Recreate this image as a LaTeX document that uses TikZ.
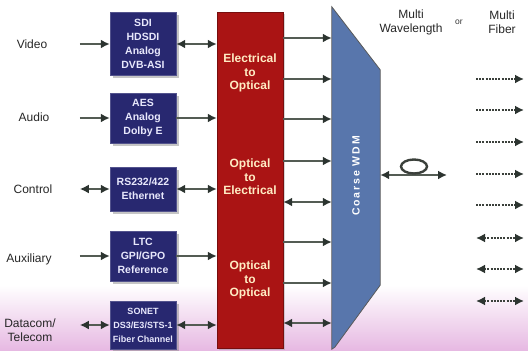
\documentclass[tikz,border=0pt]{standalone}
\usepackage{fontspec}
\setmainfont{Liberation Sans}
\newfontfamily\wdmfont[LetterSpace=18]{Liberation Sans}
\usetikzlibrary{positioning,calc,arrows.meta,shadows}
\definecolor{navybox}{RGB}{40,40,112}
\definecolor{boxtext}{RGB}{232,232,252}
\definecolor{convred}{RGB}{170,20,20}
\definecolor{convtext}{RGB}{255,236,196}
\definecolor{wdmblue}{RGB}{88,118,172}
\definecolor{wirecol}{RGB}{84,92,84}
\definecolor{headcol}{RGB}{44,52,48}
\definecolor{bgpink}{RGB}{230,184,226}

\begin{document}
\begin{tikzpicture}[x=1pt, y=-1pt,
  >={Latex[length=9pt,width=9pt,color=headcol]},
  lbl/.style={font=\fontsize{12}{14}\selectfont, text=black!85, align=center},
  sig/.style={draw=navybox!80!white, fill=navybox, text=boxtext, align=center,
              minimum width=66pt, minimum height=#1, inner sep=1pt,
              font=\bfseries\fontsize{10.5}{14}\selectfont,
              drop shadow={shadow xshift=2.5pt, shadow yshift=-2.5pt, fill=black!45, opacity=0.5}},
  sig/.default=50pt,
  conv/.style={text=convtext, align=center, font=\bfseries\fontsize{12}{13.5}\selectfont},
  arr/.style={->, draw=wirecol, line width=2.8pt},
  arr2/.style={<->, draw=wirecol, line width=2.8pt},
  fib/.style={->, draw=wirecol!70!black, line width=2.4pt, dash pattern=on 2pt off 1.2pt},
  fib2/.style={<->, draw=wirecol!70!black, line width=2.4pt, dash pattern=on 2pt off 1.2pt}]
\useasboundingbox (0,0) rectangle (528,351);
\shade[top color=white, bottom color=bgpink] (0,285) rectangle (528,351);

\node[lbl] (video) at (32,44) {Video};
\node[lbl] (audio) at (34,117) {Audio};
\node[lbl] (ctrl) at (33,189) {Control};
\node[lbl] (aux) at (29,259) {Auxiliary};
\node[lbl] (datacom) at (30,330) {Datacom/\\Telecom};

\node[sig=63pt] (sdi) at (143,44) {SDI\\HDSDI\\Analog\\DVB-ASI};
\node[sig=50pt] (aes) at (143,118) {AES\\Analog\\Dolby E};
\node[sig=44pt] (rs) at (143,189) {RS232/422\\Ethernet};
\node[sig=50pt] (ltc) at (143,256) {LTC\\GPI/GPO\\Reference};
\node[sig=48pt, font=\bfseries\fontsize{9}{14}\selectfont] (sonet) at (143,325) {SONET\\DS3/E3/STS-1\\Fiber Channel};

\node[fill=convred, draw=convred!70!black, minimum width=66pt, minimum height=336pt,
      drop shadow={shadow xshift=2pt, shadow yshift=-2pt, fill=black!40, opacity=0.4}] (conv) at (250,180) {};
\node[conv] (eo) at (250,73) {Electrical\\to\\Optical};
\node[conv] (oe) at (250,177) {Optical\\to\\Electrical};
\node[conv] (oo) at (250,280) {Optical\\to\\Optical};

\node[minimum width=48pt, minimum height=342pt, inner sep=0pt] (wdm) at (356,178) {};
\filldraw[fill=wdmblue, draw=gray!70!black, line width=0.8pt]
  (wdm.north west) -- ($(wdm.north east)+(0,63)$) -- ($(wdm.south east)+(0,-64)$)
  -- ($(wdm.south west)+(3,-2)$) -- (wdm.south west) -- cycle;
\node[rotate=90, text=white, font=\wdmfont\bfseries\fontsize{10.5}{12}\selectfont] (wdmlbl) at (356,176) {Coarse WDM};

\node[lbl] (mwave) at (411,22) {Multi\\Wavelength};
\node[font=\fontsize{8.5}{9}\selectfont, text=black!80] (orlbl) at (459,22) {or};
\node[lbl] (mfib) at (502,22) {Multi\\Fiber};

\draw[arr] ([xshift=-30pt]sdi.west) -- (sdi.west);
\draw[arr] ([xshift=-30pt]aes.west) -- (aes.west);
\draw[arr2] ([xshift=-30pt]rs.west) -- (rs.west);
\draw[arr] ([xshift=-30pt]ltc.west) -- (ltc.west);
\draw[arr2] ([xshift=-30pt]sonet.west) -- (sonet.west);

\draw[arr2] (sdi.east) -- (sdi.east -| conv.west);
\draw[arr] (aes.east) -- (aes.east -| conv.west);
\draw[arr2] (rs.east) -- (rs.east -| conv.west);
\draw[arr] (ltc.east) -- (ltc.east -| conv.west);
\draw[arr2] (sonet.east) -- (sonet.east -| conv.west);

\foreach \y/\s in {38/arr,79/arr,119/arr,161/arr,202/arr2,242/arr,283/arr,323/arr2}
  \draw[\s] (conv.east |- 0,\y) -- (wdm.west |- 0,\y);

\coordinate (loopend) at (447,175);
\draw[arr2] (wdm.east |- loopend) -- (loopend);
\draw[draw=wirecol!70!black, line width=2.4pt] (414,166.5) ellipse [x radius=13pt, y radius=7pt];

\foreach \y [count=\i] in {79,110,142,174,205} {
  \coordinate (fa\i) at (476,\y);
  \coordinate (fb\i) at (524,\y);
  \draw[fib] (fa\i) -- (fb\i);
}
\foreach \y [count=\i from 6] in {238,269,301} {
  \coordinate (fa\i) at (476,\y);
  \coordinate (fb\i) at (524,\y);
  \draw[fib2] (fa\i) -- (fb\i);
}
\end{tikzpicture}
\end{document}
